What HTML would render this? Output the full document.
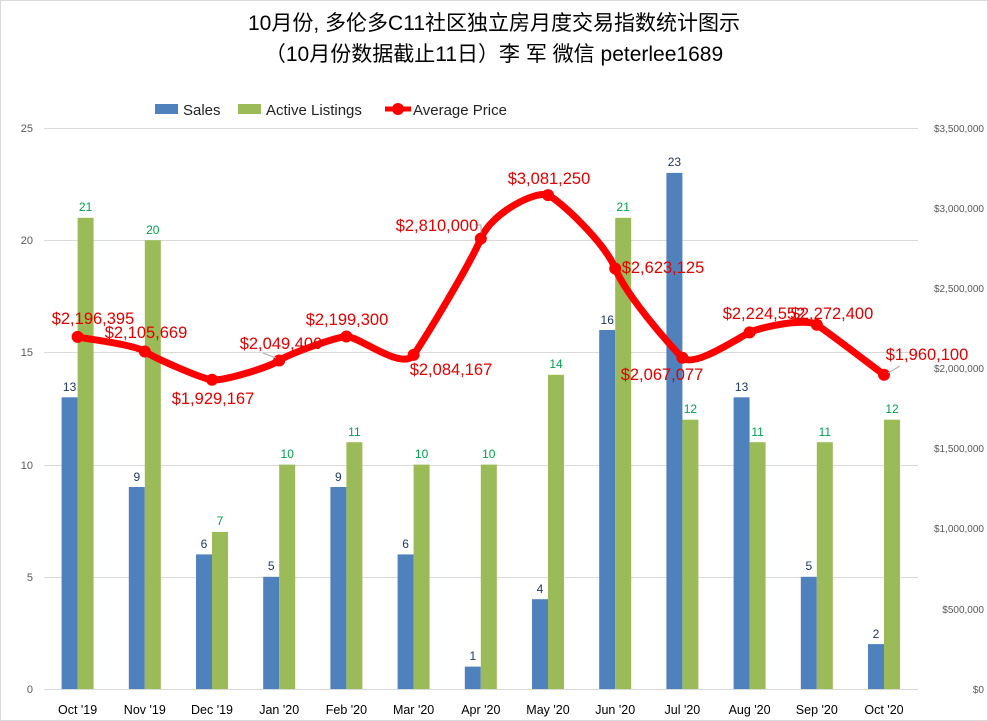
<!DOCTYPE html>
<html><head><meta charset="utf-8"><style>body{margin:0;background:#fff}svg{display:block}</style></head><body>
<svg width="988" height="721" xmlns="http://www.w3.org/2000/svg" font-family="Liberation Sans, Noto Sans CJK SC, sans-serif">
<rect x="0.5" y="0.5" width="987" height="720" fill="#fff" stroke="#d9d9d9"/>
<text x="494" y="30" font-size="21" text-anchor="middle" fill="#000">10月份, 多伦多C11社区独立房月度交易指数统计图示</text>
<text x="494" y="61" font-size="21" text-anchor="middle" fill="#000">（10月份数据截止11日）李 军  微信  peterlee1689</text>
<g font-size="15" fill="#222">
<rect x="155" y="104" width="23" height="10" fill="#4f81bd"/><text x="183" y="115">Sales</text>
<rect x="238" y="104" width="23" height="10" fill="#9bbb59"/><text x="266" y="115">Active Listings</text>
<line x1="385" y1="109" x2="411" y2="109" stroke="#f00" stroke-width="5"/><circle cx="398" cy="109" r="6" fill="#f00"/><text x="413" y="115">Average Price</text>
</g>
<g stroke="#d9d9d9" stroke-width="1">
<line x1="44" y1="128.5" x2="918" y2="128.5"/><line x1="44" y1="240.5" x2="918" y2="240.5"/><line x1="44" y1="352.5" x2="918" y2="352.5"/><line x1="44" y1="465.5" x2="918" y2="465.5"/><line x1="44" y1="577.5" x2="918" y2="577.5"/><line x1="44" y1="689.5" x2="918" y2="689.5"/>
</g>
<g font-size="11" fill="#595959" text-anchor="end">
<text x="33" y="132">25</text><text x="33" y="244">20</text><text x="33" y="356">15</text><text x="33" y="469">10</text><text x="33" y="581">5</text><text x="33" y="693">0</text>
</g>
<g font-size="10" fill="#595959" text-anchor="end">
<text x="984" y="132">$3,500,000</text><text x="984" y="212">$3,000,000</text><text x="984" y="292">$2,500,000</text><text x="984" y="372">$2,000,000</text><text x="984" y="452">$1,500,000</text><text x="984" y="532">$1,000,000</text><text x="984" y="613">$500,000</text><text x="984" y="693">$0</text>
</g>
<g fill="#4f81bd">
<rect x="61.6" y="397.3" width="16" height="291.7"/><rect x="128.8" y="487" width="16" height="202"/><rect x="196" y="554.4" width="16" height="134.6"/><rect x="263.2" y="576.8" width="16" height="112.2"/><rect x="330.4" y="487" width="16" height="202"/><rect x="397.6" y="554.4" width="16" height="134.6"/><rect x="464.8" y="666.6" width="16" height="22.4"/><rect x="532" y="599.2" width="16" height="89.8"/><rect x="599.2" y="330" width="16" height="359"/><rect x="666.4" y="172.9" width="16" height="516.1"/><rect x="733.6" y="397.3" width="16" height="291.7"/><rect x="800.8" y="576.8" width="16" height="112.2"/><rect x="868" y="644.1" width="16" height="44.9"/>
</g>
<g fill="#9bbb59">
<rect x="77.6" y="217.8" width="16" height="471.2"/><rect x="144.8" y="240.2" width="16" height="448.8"/><rect x="212" y="531.9" width="16" height="157.1"/><rect x="279.2" y="464.6" width="16" height="224.4"/><rect x="346.4" y="442.2" width="16" height="246.8"/><rect x="413.6" y="464.6" width="16" height="224.4"/><rect x="480.8" y="464.6" width="16" height="224.4"/><rect x="548" y="374.8" width="16" height="314.2"/><rect x="615.2" y="217.8" width="16" height="471.2"/><rect x="682.4" y="419.7" width="16" height="269.3"/><rect x="749.6" y="442.2" width="16" height="246.8"/><rect x="816.8" y="442.2" width="16" height="246.8"/><rect x="884" y="419.7" width="16" height="269.3"/>
</g>
<g font-size="12" fill="#1f3864" text-anchor="middle">
<text x="69.6" y="391">13</text><text x="136.8" y="481">9</text><text x="204" y="548">6</text><text x="271.2" y="570">5</text><text x="338.4" y="481">9</text><text x="405.6" y="548">6</text><text x="472.8" y="660">1</text><text x="540" y="593">4</text><text x="607.2" y="324">16</text><text x="674.4" y="166">23</text><text x="741.6" y="391">13</text><text x="808.8" y="570">5</text><text x="876" y="638">2</text>
</g>
<g font-size="12" fill="#00a050" text-anchor="middle">
<text x="85.6" y="211">21</text><text x="152.8" y="234">20</text><text x="220" y="525">7</text><text x="287.2" y="458">10</text><text x="354.4" y="436">11</text><text x="421.6" y="458">10</text><text x="488.8" y="458">10</text><text x="556" y="368">14</text><text x="623.2" y="211">21</text><text x="690.4" y="413">12</text><text x="757.6" y="436">11</text><text x="824.8" y="436">11</text><text x="892" y="413">12</text>
</g>
<g font-size="12.5" fill="#000" text-anchor="middle">
<text x="77.6" y="714">Oct '19</text><text x="144.8" y="714">Nov '19</text><text x="212" y="714">Dec '19</text><text x="279.2" y="714">Jan '20</text><text x="346.4" y="714">Feb '20</text><text x="413.6" y="714">Mar '20</text><text x="480.8" y="714">Apr '20</text><text x="548" y="714">May '20</text><text x="615.2" y="714">Jun '20</text><text x="682.4" y="714">Jul '20</text><text x="749.6" y="714">Aug '20</text><text x="816.8" y="714">Sep '20</text><text x="884" y="714">Oct '20</text>
</g>
<path d="M77.6,336.9 C88.8,339.3 133.6,344.4 144.8,351.5 C156,358.7 200.8,378.3 212,379.8 C223.2,381.3 268,367.7 279.2,360.5 C290.4,353.3 335.2,337.4 346.4,336.5 C357.6,335.6 402.4,371.2 413.6,354.9 C424.8,338.6 469.6,265.2 480.8,238.6 C492,212 536.8,190.1 548,195.1 C559.2,200.1 604,241.4 615.2,268.5 C626.4,295.6 671.2,347.1 682.4,357.7 C693.6,368.3 738.4,337.9 749.6,332.4 C760.8,326.9 805.6,317.7 816.8,324.8 C828,331.9 872.8,366.5 884,374.8" fill="none" stroke="#f00" stroke-width="7" stroke-linecap="round"/>
<g fill="#f00">
<circle cx="77.6" cy="336.9" r="6"/><circle cx="144.8" cy="351.5" r="6"/><circle cx="212" cy="379.8" r="6"/><circle cx="279.2" cy="360.5" r="6"/><circle cx="346.4" cy="336.5" r="6"/><circle cx="413.6" cy="354.9" r="6"/><circle cx="480.8" cy="238.6" r="6"/><circle cx="548" cy="195.1" r="6"/><circle cx="615.2" cy="268.5" r="6"/><circle cx="682.4" cy="357.7" r="6"/><circle cx="749.6" cy="332.4" r="6"/><circle cx="816.8" cy="324.8" r="6"/><circle cx="884" cy="374.8" r="6"/>
</g>
<g stroke="#a6a6a6" stroke-width="1" fill="none">
<polyline points="475,225 481,225 481,233"/><line x1="263" y1="353" x2="276" y2="358"/><line x1="888" y1="373" x2="900" y2="366"/>
</g>
<g font-size="16.5" fill="#e00000" text-anchor="middle">
<text x="93" y="324">$2,196,395</text><text x="146" y="338">$2,105,669</text><text x="213" y="404">$1,929,167</text><text x="281" y="349">$2,049,400</text><text x="347" y="325">$2,199,300</text><text x="451" y="375">$2,084,167</text><text x="437" y="231">$2,810,000</text><text x="549" y="184">$3,081,250</text><text x="663" y="273">$2,623,125</text><text x="662" y="380">$2,067,077</text><text x="764" y="319">$2,224,552</text><text x="832" y="319">$2,272,400</text><text x="927" y="360">$1,960,100</text>
</g>
</svg>
</body></html>
